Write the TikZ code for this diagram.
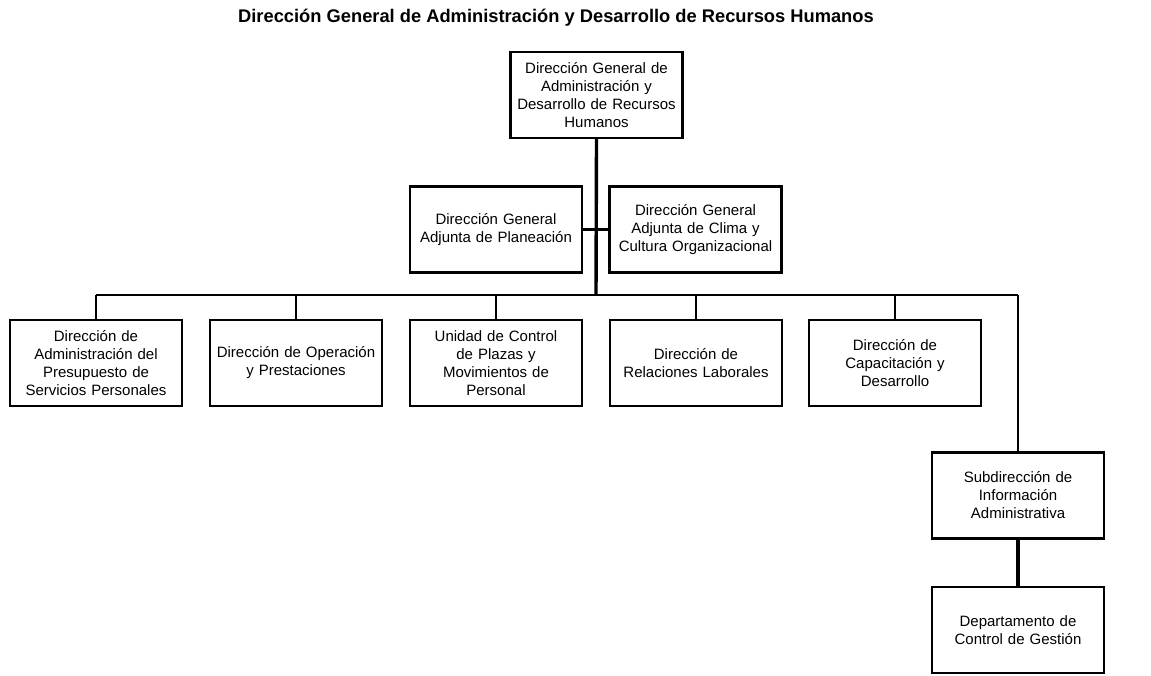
\documentclass[tikz,border=0pt]{standalone}
\usepackage{fontspec}
\setmainfont{Liberation Sans}
\usetikzlibrary{positioning}

\tikzset{
  caja/.style={draw=black, line width=2.2pt, fill=white, align=center, inner sep=2pt,
    minimum width=172pt, minimum height=86pt, text width=168pt,
    font=\fontsize{15}{18}\selectfont},
  linea/.style={line width=2.2pt},
  tronco/.style={line width=3.4pt}
}

\begin{document}
\begin{tikzpicture}[x=1pt, y=-1pt]
\useasboundingbox (0,0) rectangle (1151,675);
\node[font=\bfseries\fontsize{18.3}{20}\selectfont] (titulo) at (556,18) {Dirección General de Administración y Desarrollo de Recursos Humanos};
\node[caja] (dg) at (596.5,95) {Dirección General de\\Administración y\\Desarrollo de Recursos\\Humanos};
\node[caja] (plan) at (496,229.5) {Dirección General\\Adjunta de Planeación};
\node[caja] (clima) at (695.5,229.5) {Dirección General\\Adjunta de Clima y\\Cultura Organizacional};
\node[caja] (presup) at (96,363) {Dirección de\\Administración del\\Presupuesto de\\Servicios Personales};
\node[caja] (oper) at (296,363) {Dirección de Operación\\y Prestaciones};
\node[caja] (plazas) at (496,363) {Unidad de Control\\de Plazas y\\Movimientos de\\Personal};
\node[caja] (relac) at (696,363) {Dirección de\\Relaciones Laborales};
\node[caja] (capac) at (895,363) {Dirección de\\Capacitación y\\Desarrollo};
\node[caja, minimum width=170pt] (subinfo) at (1018,495.5) {Subdirección de\\Información\\Administrativa};
\node[caja, minimum width=170pt] (depto) at (1018,630) {Departamento de\\Control de Gestión};
\coordinate (b0) at (596,295);
\coordinate (b1) at (96,295);
\coordinate (b2) at (1018,295);
\draw[linea] (plan.east) -- (clima.west);
\draw[tronco] (dg.south) -- (b0);
\draw[linea] (b1) -- (b2);
\draw[linea] (b1) -- (presup.north);
\draw[linea] (oper.north |- b0) -- (oper.north);
\draw[linea] (plazas.north |- b0) -- (plazas.north);
\draw[linea] (relac.north |- b0) -- (relac.north);
\draw[linea] (capac.north |- b0) -- (capac.north);
\draw[linea] (b2) -- (subinfo.north);
\draw[tronco] (subinfo.south) -- (depto.north);
\end{tikzpicture}
\end{document}
